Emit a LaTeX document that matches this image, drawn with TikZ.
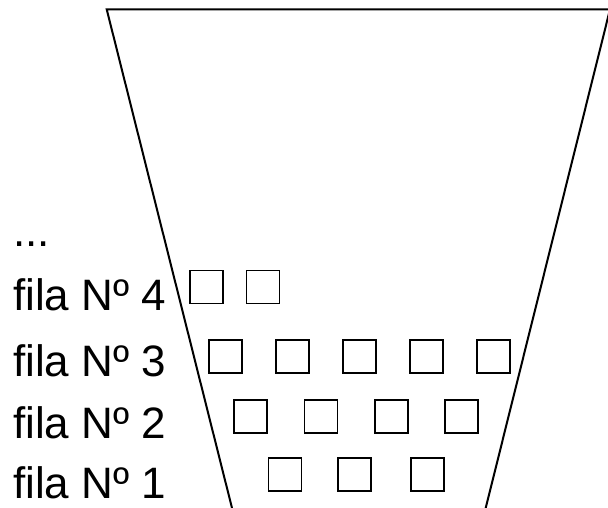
\documentclass[tikz,border=0pt]{standalone}
\usepackage{fontspec}
\setmainfont{Liberation Sans}
\begin{document}
\begin{tikzpicture}[x=1pt,y=-1pt,
  lbl/.style={anchor=base west,inner sep=0pt,font=\fontsize{44}{50}\selectfont},
  seat/.style={draw,line width=1.7pt,minimum size=33pt,inner sep=0pt},
  edge/.style={line width=2pt}]
\useasboundingbox (0,0) rectangle (608,507);
\clip (0,0) rectangle (608,507);
\coordinate (tl) at (106.7,9.3);
\coordinate (tr) at (610,9.3);
\coordinate (bl) at (232,508);
\coordinate (br) at (485.7,508);
\draw[edge] (bl) -- (tl) -- (tr) -- (br);
\node[lbl] (dots) at (13,246) {...};
\node[lbl] (r4) at (13,310) {fila Nº 4};
\node[lbl] (r3) at (13,376.7) {fila Nº 3};
\node[lbl] (r2) at (13,438) {fila Nº 2};
\node[lbl] (r1) at (13,498) {fila Nº 1};
\node[seat] (s41) at (206.5,287) {};
\node[seat] (s42) at (263,287) {};
\node[seat] (s31) at (225.5,356.3) {};
\node[seat] (s32) at (292.7,356.3) {};
\node[seat] (s33) at (359.7,356.3) {};
\node[seat] (s34) at (426.3,356.3) {};
\node[seat] (s35) at (493.7,356.3) {};
\node[seat] (s21) at (250.2,416.8) {};
\node[seat] (s22) at (321,416.8) {};
\node[seat] (s23) at (391.3,416.8) {};
\node[seat] (s24) at (461.7,416.8) {};
\node[seat] (s11) at (285,474.5) {};
\node[seat] (s12) at (354.8,474.5) {};
\node[seat] (s13) at (427.2,474.5) {};
\end{tikzpicture}
\end{document}
